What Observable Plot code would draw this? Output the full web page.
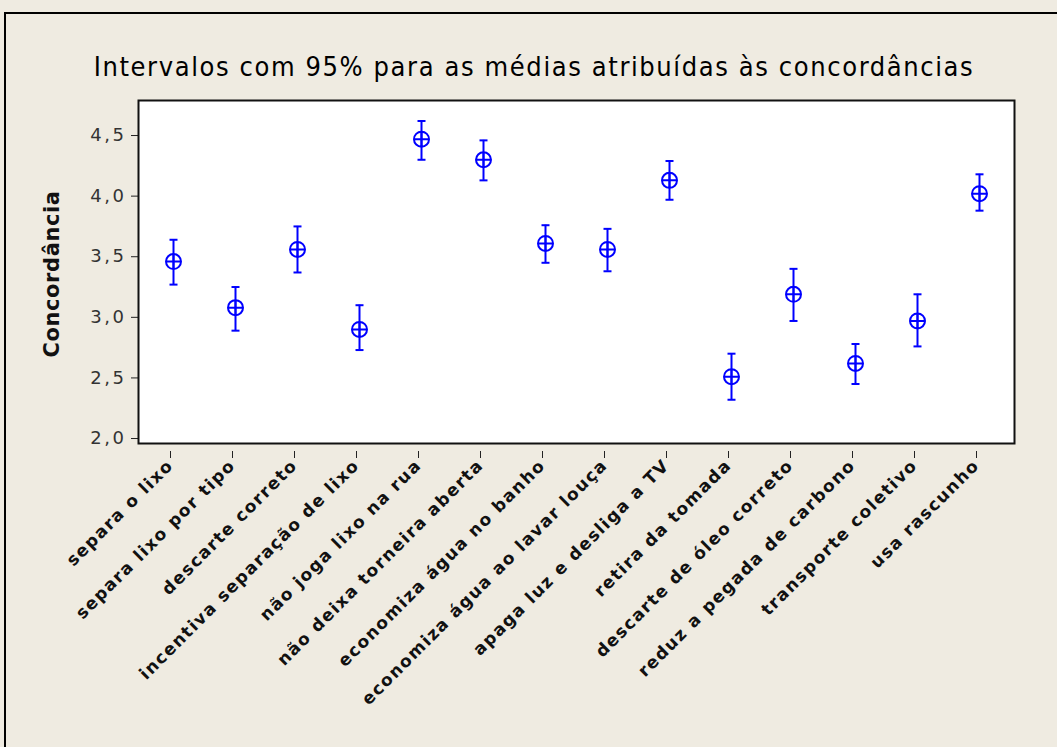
<!DOCTYPE html>
<html>
<head>
<meta charset="utf-8">
<script src="https://cdn.jsdelivr.net/npm/d3@7"></script>
<script src="https://cdn.jsdelivr.net/npm/@observablehq/plot@0.6"></script>
<style>
  html, body { margin: 0; padding: 0; background: #efebe1; }
  #page { position: relative; width: 1057px; height: 747px; overflow: hidden; }
  #border { position: absolute; left: 4px; top: 12px; right: -10px; bottom: -10px;
            border-top: 2px solid #000; border-left: 2px solid #000; }
  #title { position: absolute; top: 53px; left: 0; width: 1068px; text-align: center;
           font: 27px "DejaVu Sans Condensed", "DejaVu Sans", sans-serif; letter-spacing: 1.6px;
           color: #000; line-height: 1; white-space: nowrap; }
  #chart { position: absolute; left: 0; top: 90px; }
  #chart g[aria-label="x-axis tick label"] text { letter-spacing: 1.5px; }
  #chart g[aria-label="y-axis tick label"] text { letter-spacing: 2.5px; }
  #chart g.ylabel text { letter-spacing: 0.6px; }
</style>
</head>
<body>
<div id="page">
  <div id="border"></div>
  <div id="title">Intervalos com 95% para as médias atribuídas às concordâncias</div>
  <div id="chart"></div>
</div>
<script>
// Statements rated by respondents (x axis, in order)
const categories = [
  "separa o lixo",
  "separa lixo por tipo",
  "descarte correto",
  "incentiva separação de lixo",
  "não joga lixo na rua",
  "não deixa torneira aberta",
  "economiza água no banho",
  "economiza água ao lavar louça",
  "apaga luz e desliga a TV",
  "retira da tomada",
  "descarte de óleo correto",
  "reduz a pegada de carbono",
  "transporte coletivo",
  "usa rascunho"
];

// Mean agreement and 95% confidence limits for each statement
const means = [3.46, 3.08, 3.56, 2.90, 4.47, 4.30, 3.61, 3.56, 4.13, 2.51, 3.19, 2.62, 2.97, 4.02];
const lower = [3.27, 2.89, 3.37, 2.73, 4.30, 4.13, 3.45, 3.38, 3.97, 2.32, 2.97, 2.45, 2.76, 3.88];
const upper = [3.64, 3.25, 3.75, 3.10, 4.62, 4.46, 3.76, 3.73, 4.29, 2.70, 3.40, 2.78, 3.19, 4.18];

// Y axis ticks
const yTicks = [2.0, 2.5, 3.0, 3.5, 4.0, 4.5];
const yLabel = "Concordância";

const rows = categories.map((c, i) => ({cat: c, mean: means[i], lo: lower[i], hi: upper[i]}));

// Circle with a crosshair, the mean marker
const crossCircle = {
  draw(ctx, size) {
    const r = Math.sqrt(size / Math.PI);
    ctx.moveTo(r, 0);
    ctx.arc(0, 0, r, 0, 2 * Math.PI);
    ctx.moveTo(-r, 0); ctx.lineTo(r, 0);
    ctx.moveTo(0, -r); ctx.lineTo(0, r);
  }
};
// Short horizontal cap at the end of each interval
const cap = {
  draw(ctx, size) {
    const r = Math.sqrt(size / Math.PI);
    ctx.moveTo(-r, 0); ctx.lineTo(r, 0);
  }
};

const blue = "#0000ff";
const commaFmt = d => d.toFixed(1).replace(".", ",");

const chart = Plot.plot({
  width: 1057,
  height: 657,
  marginTop: 10,
  marginLeft: 138,
  marginRight: 43,
  marginBottom: 304,
  style: {background: "transparent", fontFamily: "'DejaVu Sans', sans-serif", overflow: "visible"},
  x: {type: "point", domain: categories, padding: 0.5},
  y: {domain: [1.959, 4.789]},
  marks: [
    Plot.frame({fill: "white", stroke: "none"}),
    Plot.ruleX(rows, {x: "cat", y1: "lo", y2: "hi", stroke: blue, strokeWidth: 2}),
    Plot.dot(rows, {x: "cat", y: "lo", symbol: cap, r: 4, stroke: blue, fill: "none", strokeWidth: 2}),
    Plot.dot(rows, {x: "cat", y: "hi", symbol: cap, r: 4, stroke: blue, fill: "none", strokeWidth: 2}),
    Plot.dot(rows, {x: "cat", y: "mean", symbol: crossCircle, r: 7.5, stroke: blue, fill: "none", strokeWidth: 2}),
    Plot.axisY({ticks: yTicks, tickFormat: commaFmt, tickSize: 7, tickPadding: 5, fontSize: 18,
                fill: "#333", stroke: "#222", label: null}),
    Plot.axisX({tickRotate: -45, tickSize: 7, tickPadding: 4, fontSize: 17, fontWeight: "bold",
                dx: -3, dy: 8, fill: "#111", stroke: "#222", label: null}),
    Plot.text([yLabel], {text: d => d, frameAnchor: "left", textAnchor: "middle", rotate: -90, dx: -86, dy: 2,
                         fontSize: 21, fontWeight: "bold", fill: "#111", className: "ylabel"}),
    Plot.frame({stroke: "#111", strokeWidth: 2})
  ]
});

document.getElementById("chart").appendChild(chart);
</script>
</body>
</html>
